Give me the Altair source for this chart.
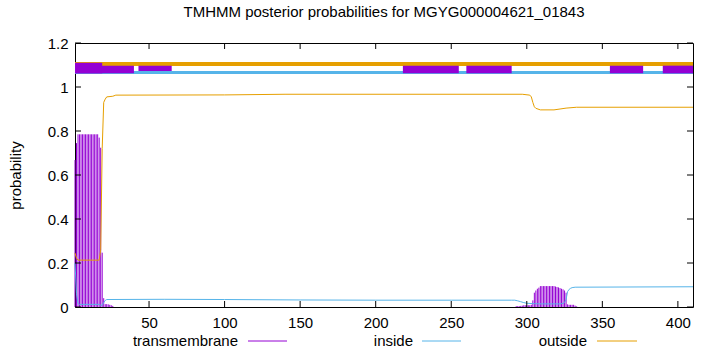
import altair as alt
import pandas as pd

TITLE = "TMHMM posterior probabilities for MGYG000004621_01843"
FONT = "Liberation Sans"
FS = 15

# transmembrane posterior (impulses), residue -> value
tm_res = list(range(1, 27)) + list(range(293, 334))
tm_val = [0.668, 0.745, 0.785, 0.785, 0.785, 0.785, 0.785, 0.785, 0.785, 0.785,
          0.785, 0.785, 0.785, 0.785, 0.785, 0.785, 0.77, 0.724, 0.247, 0.04,
          0.013, 0.013, 0.012, 0.01, 0.008, 0.005,
          0.004, 0.004, 0.004, 0.005, 0.006, 0.008, 0.008, 0.008, 0.008, 0.008,
          0.01, 0.03, 0.065, 0.075, 0.083, 0.088, 0.095, 0.095, 0.095, 0.095,
          0.095, 0.095, 0.095, 0.095, 0.095, 0.095, 0.093, 0.091, 0.089, 0.086,
          0.083, 0.08, 0.075, 0.065, 0.012, 0.01, 0.01, 0.01, 0.01, 0.006, 0.003]

# inside posterior
in_res = [1, 2, 3, 4, 17, 18, 19, 20, 21, 22, 60, 100, 150, 200, 250, 290, 292,
          294, 296, 298, 300, 305, 310, 322, 324, 325, 326, 327, 328, 329, 330, 332, 410]
in_val = [0.2, 0.06, 0.015, 0.012, 0.012, 0.008, 0.008, 0.02, 0.03, 0.034, 0.035,
          0.034, 0.032, 0.031, 0.031, 0.031, 0.031, 0.028, 0.024, 0.02, 0.017,
          0.015, 0.014, 0.014, 0.016, 0.02, 0.035, 0.07, 0.08, 0.085, 0.088, 0.09, 0.092]

# outside posterior
out_res = [1, 2, 3, 17, 18, 19, 20, 21, 22, 26, 28, 100, 140, 297, 302, 303, 304,
           305, 306, 309, 318, 322, 326, 333, 410]
out_val = [0.245, 0.222, 0.213, 0.213, 0.26, 0.72, 0.93, 0.945, 0.955, 0.958, 0.963,
           0.964, 0.967, 0.967, 0.963, 0.955, 0.93, 0.91, 0.903, 0.896, 0.896, 0.9,
           0.904, 0.908, 0.908]

# topology annotation at the top
topo_kind = ["inside", "outside"]
topo_start = [1, 1]
topo_end = [410, 410]
topo_y = [1.066, 1.1045]
box_start = [1, 1, 43, 218, 260, 355, 390]
box_end = [19, 40, 65, 255, 290, 377, 410]
box_lo = [1.062, 1.062, 1.073, 1.062, 1.062, 1.062, 1.062]
box_hi = [1.11, 1.097, 1.097, 1.097, 1.097, 1.097, 1.097]

x_ticks = [50, 100, 150, 200, 250, 300, 350, 400]
y_ticks = [0, 0.2, 0.4, 0.6, 0.8, 1.0, 1.2]

legend_labels = ["transmembrane", "inside", "outside"]
C_TM, C_IN, C_OUT = "#9400d3", "#56b4e9", "#e69f00"

W, H = 618, 264

xs = alt.Scale(domain=[1, 410], nice=False, zero=False)
ys = alt.Scale(domain=[0, 1.2], nice=False, zero=False)

tm_df = pd.DataFrame({"res": tm_res, "p": tm_val})
in_df = pd.DataFrame({"res": in_res, "p": in_val})
out_df = pd.DataFrame({"res": out_res, "p": out_val})
topo_df = pd.DataFrame({"kind": topo_kind, "s": topo_start, "e": topo_end, "y": topo_y})
box_df = pd.DataFrame({"s": box_start, "e": box_end, "lo": box_lo, "hi": box_hi})
xt_df = pd.DataFrame({"t": x_ticks})
yt_df = pd.DataFrame({"t": y_ticks})

axis_common = dict(grid=False, ticks=False, domain=False, labelFont=FONT,
                   labelFontSize=FS, labelColor="black", titleFont=FONT,
                   titleFontSize=FS, titleColor="black", titleFontWeight="normal")
XAX = alt.Axis(values=x_ticks, title="", labelPadding=8, **axis_common)
YAX = alt.Axis(values=y_ticks, format="~g", title="probability", labelPadding=7,
               titleX=-60, titleY=H / 2, titleBaseline="middle", **axis_common)


def X(f):
    return alt.X(f, scale=xs, axis=XAX)


def Y(f):
    return alt.Y(f, scale=ys, axis=YAX)


tm_imp = alt.Chart(tm_df).mark_rule(color=C_TM, strokeWidth=1).encode(
    x=X("res:Q"), y=Y("p:Q"), y2=alt.datum(0))

inside_line = alt.Chart(in_df).mark_line(color=C_IN, strokeWidth=1).encode(
    x=X("res:Q"), y=Y("p:Q"))

outside_line = alt.Chart(out_df).mark_line(color=C_OUT, strokeWidth=1).encode(
    x=X("res:Q"), y=Y("p:Q"))

topo_lines = alt.Chart(topo_df).mark_rule().encode(
    x=X("s:Q"), x2="e:Q", y=Y("y:Q"),
    color=alt.Color("kind:N", scale=alt.Scale(domain=["inside", "outside"],
                                              range=[C_IN, C_OUT]), legend=None),
    strokeWidth=alt.StrokeWidth("kind:N", scale=alt.Scale(domain=["inside", "outside"],
                                                          range=[3, 4]), legend=None),
)

boxes = alt.Chart(box_df).mark_rect(color=C_TM).encode(
    x=X("s:Q"), x2="e:Q", y=Y("lo:Q"), y2="hi:Q")

tick_style = dict(color="black", strokeWidth=1)
tb = alt.Chart(xt_df).mark_rule(**tick_style).encode(
    x=X("t:Q"), y=alt.value(H), y2=alt.value(H - 6))
tt = alt.Chart(xt_df).mark_rule(**tick_style).encode(
    x=X("t:Q"), y=alt.value(0), y2=alt.value(6))
tl = alt.Chart(yt_df).mark_rule(**tick_style).encode(
    y=Y("t:Q"), x=alt.value(0), x2=alt.value(6))
tr = alt.Chart(yt_df).mark_rule(**tick_style).encode(
    y=Y("t:Q"), x=alt.value(W), x2=alt.value(W - 6))

legend_layers = []
leg_text_x = [163, 338, 512]
leg_line_x = [(173, 212), (347, 386), (522, 562)]
leg_colors = [C_TM, C_IN, C_OUT]
for lab, tx, (l0, l1), col in zip(legend_labels, leg_text_x, leg_line_x, leg_colors):
    d = pd.DataFrame({"label": [lab]})
    legend_layers.append(
        alt.Chart(d).mark_text(align="right", baseline="middle", font=FONT,
                               fontSize=FS, color="black").encode(
            x=alt.value(tx), y=alt.value(298), text="label:N"))
    legend_layers.append(
        alt.Chart(d).mark_rule(color=col, strokeWidth=1).encode(
            x=alt.value(l0), x2=alt.value(l1), y=alt.value(298)))

chart = alt.layer(
    tm_imp, inside_line, outside_line, topo_lines, boxes, tb, tt, tl, tr,
    *legend_layers
).resolve_scale(color="independent", strokeWidth="independent").properties(
    width=W, height=H,
    title=alt.TitleParams(TITLE, font=FONT, fontSize=FS, fontWeight="normal",
                          color="black", anchor="middle", offset=16),
    autosize=alt.AutoSizeParams(type="none"),
    padding={"left": 75, "top": 43, "right": 27, "bottom": 45},
).configure_view(stroke="black", strokeWidth=1)

chart.save("out.html", embed_options={"renderer": "svg", "actions": False})
